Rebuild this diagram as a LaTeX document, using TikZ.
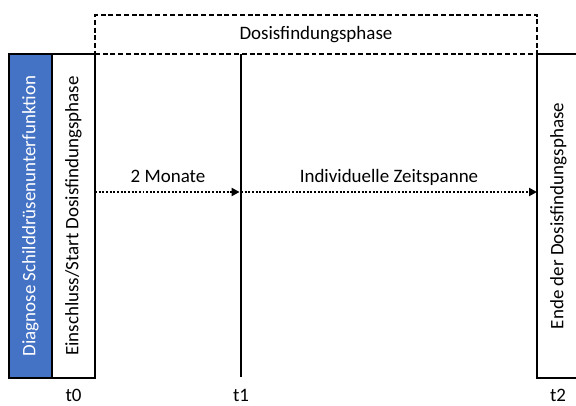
\documentclass[tikz,border=0pt]{standalone}
\usepackage{fontspec}
\setmainfont{Carlito}
\usepackage{tikz}
\usetikzlibrary{arrows.meta,positioning}
\definecolor{diagblue}{HTML}{4472C4}
\tikzset{>={Triangle[width=2.0mm,length=2.0mm]}}

\begin{document}
\begin{tikzpicture}
      \tikzstyle{every node} = [font=\fontsize{13.5}{16}\selectfont]
      \tikzstyle{tbox} = [draw=black, line width=1.6pt, rectangle, rotate=90, minimum width=8.1cm, minimum height=1.075cm, inner sep=0pt]
      \tikzstyle{pbox} = [draw=black, line width=1.2pt, dash pattern=on 3.5pt off 2pt, rectangle, minimum width=11.05cm, minimum height=0.975cm, inner sep=0pt]
      \tikzstyle{tline} = [line width=1.5pt, dash pattern=on 1.4pt off 1.2pt]
      \tikzstyle{tlbl} = [above=3pt, text depth=0pt]

      \useasboundingbox (0,0) rectangle (14.4,-10.125);

      %%%%%%%%%%%%%%%%%%%%%%%%%%%%%%
      %% boxes at t0 and t2
      %%%%%%%%%%%%%%%%%%%%%%%%%%%%%%
      \node[tbox, fill=diagblue, text=white] (diag) at (0.7625,-5.4) {Diagnose Schilddrüsenunterfunktion};
      \node[tbox, fill=white] (start) at (1.8375,-5.4) {Einschluss/Start Dosisfindungsphase};
      \node[tbox, fill=white] (ende) at (13.9625,-5.4) {Ende der Dosisfindungsphase};

      \node[pbox] (phase) at (7.9,-0.8625) {Dosisfindungsphase};

      %%%%%%%%%%%%%%%%%%%%%%%%%%%%%%
      %% time axis
      %%%%%%%%%%%%%%%%%%%%%%%%%%%%%%
      \coordinate (t1top) at (6.025,-1.35);
      \coordinate (t1bot) at (6.025,-9.43);
      \draw[line width=1.3pt] (t1top) -- (t1bot);

      \coordinate (a0) at (2.375,-4.8);
      \coordinate (a1) at (6.025,-4.8);
      \coordinate (a2) at (13.425,-4.8);

      \draw[tline, ->, shorten >=1pt] (a0) -- node[tlbl] (m1) {2 Monate} (a1);
      \draw[tline, ->] (a1) -- node[tlbl] (m2) {Individuelle Zeitspanne} (a2);

      \node (t0) at (1.8375,-9.875) {t0};
      \node (t1) at (6.025,-9.875) {t1};
      \node (t2) at (13.95,-9.875) {t2};

\end{tikzpicture}
\end{document}
